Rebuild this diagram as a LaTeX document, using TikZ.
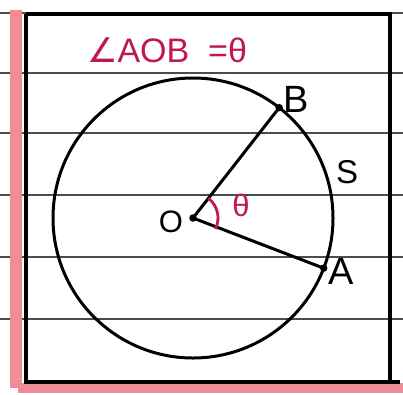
\documentclass[tikz,border=0pt]{standalone}
\usepackage{fontspec}
\setmainfont{Liberation Sans}
\newfontfamily\symfont{DejaVu Sans}
\begin{document}
\begin{tikzpicture}[x=1pt,y=-1pt,
  ruled/.style={draw=black!70,line width=1.5pt},
  boxline/.style={draw=black,line width=3.5pt},
  ink/.style={draw=black,line width=3pt},
  red ink/.style={draw=crimson,line width=2.8pt},
  lbl/.style={font=\fontsize{38}{38}\selectfont,inner sep=0pt},
  dotp/.style={fill=black,circle,inner sep=0pt,minimum size=7.5pt}]
\definecolor{crimson}{HTML}{C0174F}
\definecolor{margin}{HTML}{EE8C98}
\useasboundingbox (0,0) rectangle (403,394);
\fill[white] (0,0) rectangle (403,394);
% ruled paper lines
\foreach \yy in {13,73,133,195,257,319}
  \draw[ruled] (0,\yy) -- (403,\yy);
% pink margin and bottom band
\fill[margin] (10,10) rectangle (22,388);
\fill[margin] (18,383) rectangle (403,393);
% box
\draw[boxline] (26,14) -- (390,14) -- (390,380);
\draw[boxline] (26,14) -- (26,382) -- (400,382);
% title
\node[font=\fontsize{34}{34}\selectfont,text=crimson,inner sep=0pt] (title) at (167,50) {{\symfont ∠}AOB\ \ =θ};
% circle
\coordinate (O) at (193,218);
\draw[ink] (O) circle[radius=140];
\path (O) ++(21:140) coordinate (A);
\path (O) ++(-52:140) coordinate (B);
\draw[ink] (B) -- (O) -- (A);
\node[dotp] (dO) at (O) {};
\node[dotp] (dA) at (A) {};
\node[dotp] (dB) at (B) {};
% angle mark
\draw[red ink] (O) ++(-52:25) arc[start angle=-52,end angle=26,radius=25];
\node[font=\fontsize{31}{31}\selectfont,text=crimson,inner sep=0pt] (th) at (241,205) {θ};
% labels
\node[lbl] (lB) at (296,99) {B};
\node[lbl] (lA) at (341,271) {A};
\node[lbl,font=\fontsize{33}{33}\selectfont] (lS) at (347,172) {S};
\node[lbl,font=\fontsize{31}{31}\selectfont] (lO) at (171,222) {O};
\end{tikzpicture}
\end{document}
